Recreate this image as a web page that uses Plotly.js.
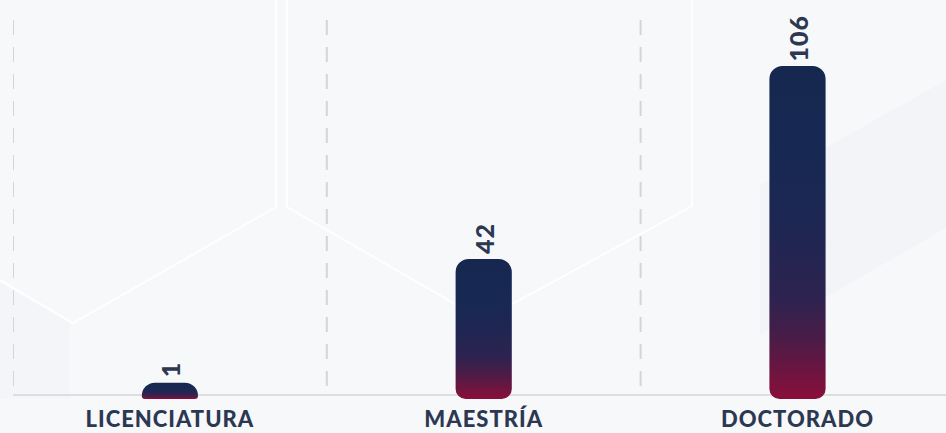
<!DOCTYPE html>
<html>
<head>
<meta charset="utf-8">
<script src="https://cdn.plot.ly/plotly-3.0.1.min.js"></script>
<style>
  html, body { margin: 0; padding: 0; background: #f7f8fa; }
  #chart { width: 946px; height: 433px; }
</style>
</head>
<body>
<div id="chart"></div>
<script>
// ---- data ----
const categories = ['LICENCIATURA', 'MAESTRÍA', 'DOCTORADO'];
const values = [1, 42, 106];

// ---- style constants ----
const BAR_BASE = -4.4;          // bars start slightly below the baseline
const TEXT_COLOR = '#2c3852';
const W = 946, H = 433;
const ML = 13, MT = 20, MB = 34;
const PLOT_BOTTOM = H - MB, PLOT_H = H - MT - MB, PLOT_W = W - ML;
const X = px => (px - ML) / PLOT_W;
const Y = py => (PLOT_BOTTOM - py) / PLOT_H;
const BASELINE_Y = Y(395);

function pth(pts) {
  return pts.map((p, i) => (i ? 'L' : 'M') + X(p[0]).toFixed(4) + ',' + Y(p[1]).toFixed(4)).join(' ');
}

const shapes = [];
// decorative background shading
shapes.push({type: 'path', xref: 'paper', yref: 'paper', layer: 'below',
  path: pth([[760, 335], [946, 228], [946, 80], [760, 185]]) + ' Z',
  fillcolor: 'rgba(205,208,216,0.08)', line: {width: 0}});
shapes.push({type: 'path', xref: 'paper', yref: 'paper', layer: 'below',
  path: pth([[0, 283], [70, 323], [70, 399], [0, 399]]) + ' Z',
  fillcolor: 'rgba(205,208,216,0.06)', line: {width: 0}});
// decorative hexagon lines
shapes.push({type: 'path', xref: 'paper', yref: 'paper', layer: 'below',
  path: pth([[0, 280], [73, 323], [276, 207], [276, -5]]),
  line: {color: 'rgba(255,255,255,0.9)', width: 2}});
shapes.push({type: 'path', xref: 'paper', yref: 'paper', layer: 'below',
  path: pth([[287, -5], [287, 207], [483, 320], [692, 206], [692, -5]]),
  line: {color: 'rgba(255,255,255,0.9)', width: 2}});
// dashed category boundary gridlines (dashes start at the top)
categories.forEach((c, i) => {
  shapes.push({type: 'line', xref: 'x', yref: 'paper', layer: 'below',
    x0: i - 0.5, x1: i - 0.5, y0: 1, y1: BASELINE_Y,
    line: {color: '#d3d5d9', width: 2, dash: '15px,12px'}});
});
// baseline
shapes.push({type: 'line', xref: 'paper', yref: 'paper', layer: 'below',
  x0: X(13), x1: 1, y0: BASELINE_Y, y1: BASELINE_Y,
  line: {color: '#dcdee2', width: 2}});

const trace = {
  type: 'bar',
  x: categories,
  y: values.map(v => v - BAR_BASE),
  base: BAR_BASE,
  text: values.map(String),
  texttemplate: '%{text}',
  textposition: 'outside',
  textangle: -90,
  constraintext: 'none',
  cliponaxis: false,
  textfont: {family: 'Lato', weight: 900, size: 25, color: TEXT_COLOR},
  marker: {color: '#172853', line: {width: 0}},
  hoverinfo: 'skip'
};

const layout = {
  width: W, height: H,
  margin: {l: ML, r: 0, t: MT, b: MB, pad: 0},
  paper_bgcolor: '#f7f8fa',
  plot_bgcolor: 'rgba(0,0,0,0)',
  bargap: 0.821,
  showlegend: false,
  xaxis: {
    type: 'category',
    range: [-0.5, -0.5 + PLOT_W / 313.8],
    showgrid: false, zeroline: false, showline: false, ticks: '',
    ticklabelstandoff: 5,
    tickfont: {family: 'Lato', weight: 900, size: 22, color: TEXT_COLOR},
    fixedrange: true
  },
  yaxis: {
    range: [BAR_BASE, BAR_BASE + PLOT_H / 3.016],
    showgrid: false, zeroline: false, showline: false,
    showticklabels: false, ticks: '', fixedrange: true
  },
  shapes: shapes
};

Plotly.newPlot('chart', [trace], layout, {displayModeBar: false, staticPlot: true}).then(gd => {
  const svg = gd.querySelector('.main-svg');
  const NS = 'http://www.w3.org/2000/svg';
  const defs = document.createElementNS(NS, 'defs');
  const grad = document.createElementNS(NS, 'linearGradient');
  grad.setAttribute('id', 'barGrad');
  grad.setAttribute('x1', '0'); grad.setAttribute('y1', '0');
  grad.setAttribute('x2', '0'); grad.setAttribute('y2', '1');
  [[0, '#16284f'], [0.3, '#172853'], [0.5, '#1f2652'], [0.7, '#2e2350'], [0.82, '#4a1c47'], [1, '#8a0f3a']]
    .forEach(([o, c]) => {
      const s = document.createElementNS(NS, 'stop');
      s.setAttribute('offset', o);
      s.setAttribute('stop-color', c);
      grad.appendChild(s);
    });
  defs.appendChild(grad);
  svg.insertBefore(defs, svg.firstChild);

  // wider tracking on the labels, like the reference typeface
  gd.querySelectorAll('.xtick text').forEach(t => { t.style.letterSpacing = '1px'; });
  gd.querySelectorAll('.barlayer .point text').forEach(t => {
    t.style.letterSpacing = '1px';
    const tr = t.getAttribute('transform') || '';
    t.setAttribute('transform', 'translate(0,-3) ' + tr);
  });

  gd.querySelectorAll('.barlayer .point path').forEach(p => {
    const nums = (p.getAttribute('d') || '').match(/-?\d+(\.\d+)?/g);
    if (!nums || nums.length < 4) return;
    const x0 = +nums[0], ya = +nums[1], yb = +nums[2], x1 = +nums[3];
    const l = Math.min(x0, x1), r = Math.max(x0, x1);
    const t = Math.min(ya, yb), b = Math.max(ya, yb);
    const h = b - t;
    const rt = Math.min(13, h, (r - l) / 2);
    const rb = Math.max(0, Math.min(10, h - rt));
    const d = `M${l},${t + rt} A${rt},${rt} 0 0 1 ${l + rt},${t} H${r - rt} A${rt},${rt} 0 0 1 ${r},${t + rt} ` +
              `V${b - rb} A${rb},${rb} 0 0 1 ${r - rb},${b} H${l + rb} A${rb},${rb} 0 0 1 ${l},${b - rb} Z`;
    p.setAttribute('d', d);
    p.style.fill = 'url(#barGrad)';
  });
});
</script>
</body>
</html>
